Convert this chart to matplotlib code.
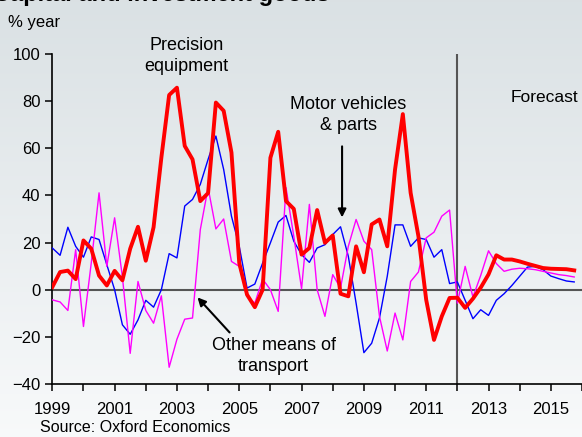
import numpy as np
import matplotlib.pyplot as plt

plt.rcParams['font.family'] = ['Liberation Sans', 'DejaVu Sans']

# quarterly data, 1999Q1 .. 2015Q4 (% year)
start_year = 1999
precision = [1.1, 7.5, 8.1, 4.5, 20.9, 17.4, 6.0, 1.8, 8.0, 4.0, 17.4, 26.7,
             12.3, 26.5, 56.0, 82.6, 85.7, 61.0, 55.3, 37.6, 41.0, 79.4, 75.9, 58.2,
             11.3, -2.1, -7.4, 0.0, 56.0, 67.0, 37.6, 34.3, 14.9, 17.7, 33.8, 19.9,
             23.0, -1.7, -2.8, 18.4, 7.4, 27.7, 29.8, 18.4, 51.0, 74.5, 41.1, 22.7,
             -4.3, -21.3, -11.3, -3.5, -3.4, -7.7, -3.8, 0.9, 6.5, 14.6, 12.8, 12.8,
             12.0, 11.0, 10.1, 9.2, 8.9, 8.8, 8.7, 8.2]
motor = [17.7, 14.6, 26.5, 18.4, 13.8, 22.4, 21.3, 10.6, 0.0, -14.9, -18.9, -12.8,
         -4.5, -7.4, 0.0, 15.3, 13.5, 35.5, 38.3, 44.7, 55.3, 65.2, 51.0, 31.2,
         18.4, 0.7, 2.4, 11.3, 19.9, 28.7, 31.5, 20.6, 14.9, 11.6, 17.7, 19.1,
         23.4, 26.7, 14.2, -5.7, -26.7, -22.7, -12.0, 5.7, 27.5, 27.5, 18.4, 22.0,
         21.3, 13.8, 17.0, 2.6, 3.3, -4.5, -12.3, -8.5, -10.9, -4.5, -1.7, 1.8,
         5.7, 9.6, 9.9, 8.5, 5.8, 4.7, 3.7, 3.3]
other = [-4.3, -5.2, -8.8, 17.0, -15.6, 11.3, 41.1, 9.9, 30.5, 5.4, -27.0, 3.5,
         -8.8, -14.2, -2.6, -32.9, -21.0, -12.5, -12.0, 25.5, 43.3, 25.8, 30.0, 12.0,
         9.9, -2.8, -5.7, 4.5, 0.0, -9.2, 43.3, 22.7, 0.4, 36.2, 0.0, -11.3,
         6.4, 0.7, 18.4, 29.8, 20.6, 17.0, -11.3, -26.0, -9.9, -21.3, 3.5, 7.5,
         22.0, 24.4, 31.2, 33.8, -5.7, 9.9, -3.1, 6.1, 16.5, 11.1, 7.8, 8.7,
         9.1, 8.9, 8.5, 7.8, 7.1, 6.4, 6.0, 5.4]
forecast_year = 2012

t = start_year + np.arange(len(precision)) / 4

fig = plt.figure(figsize=(5.82, 4.37), dpi=100)

# background gradient
bg = fig.add_axes([0, 0, 1, 1], zorder=-10)
grad = np.linspace(0, 1, 256).reshape(-1, 1)
top = np.array([0.855, 0.882, 0.894])
bot = np.array([0.972, 0.978, 0.982])
img = top + (bot - top) * grad[:, :, None]
bg.imshow(img, aspect='auto', extent=[0, 1, 0, 1])
bg.axis('off')

ax = fig.add_axes([52.3 / 582, 53 / 437, 1 - 52.3 / 582, 330 / 437])
ax.patch.set_alpha(0)

ax.plot(t, motor, color='#0000ff', lw=1.0, zorder=3)
ax.plot(t, other, color='#ff00ff', lw=1.0, zorder=4)
ax.plot(t, precision, color='#ff0000', lw=2.8, zorder=5)

ax.axhline(0, color='#555555', lw=1.5, zorder=2)
ax.axvline(forecast_year, color='#555555', lw=1.5, zorder=2)

ax.set_xlim(1999, 2015.76)
ax.set_ylim(-40, 100)
ax.set_yticks(range(-40, 101, 20))
ax.set_xticks(range(1999, 2017))
ax.set_xticklabels([str(y) if y % 2 == 1 else '' for y in range(1999, 2017)])
ax.tick_params(direction='out', length=5, width=1.1, labelsize=12, colors='black')
ax.tick_params(axis='x', pad=8)
for s in ['top', 'right']:
    ax.spines[s].set_visible(False)
for s in ['left', 'bottom']:
    ax.spines[s].set_linewidth(1.2)

# annotations
ax.text(2003.3, 107, 'Precision\nequipment', ha='center', va='top', fontsize=13,
        linespacing=1.3)
ax.text(2008.5, 82, 'Motor vehicles\n& parts', ha='center', va='top', fontsize=13,
        linespacing=1.3)
ax.annotate('', xy=(2008.3, 29.5), xytext=(2008.3, 62),
            arrowprops=dict(arrowstyle='-|>', color='black', lw=1.5, mutation_scale=12))
ax.text(2006.1, -20, 'Other means of\ntransport', ha='center', va='top', fontsize=13,
        linespacing=1.3)
ax.annotate('', xy=(2003.6, -2.4), xytext=(2004.75, -19),
            arrowprops=dict(arrowstyle='-|>', color='black', lw=1.5, mutation_scale=12))
ax.text(2014.78, 81.5, 'Forecast', ha='center', va='center', fontsize=12.5)

fig.text(8 / 582, 1 - 22 / 437, '% year', ha='left', va='center', fontsize=12)
fig.text(40 / 582, 1 - 428 / 437, 'Source: Oxford Economics', ha='left', va='center',
         fontsize=11.5)
fig.text(330 / 582, 1 - 1.5 / 437, 'Capital and investment goods', ha='right',
         va='baseline', fontsize=17, fontweight='bold')

fig.savefig('out.png', dpi=100)
